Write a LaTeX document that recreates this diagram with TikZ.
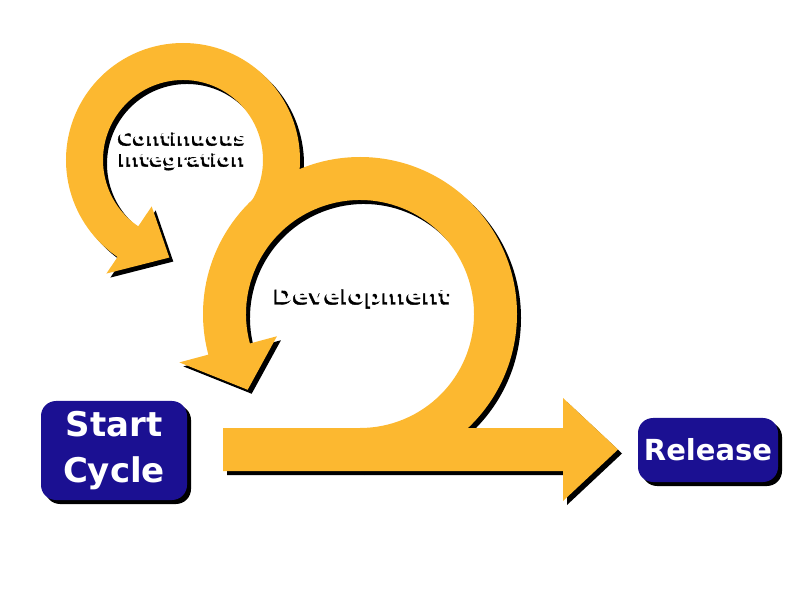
\documentclass[tikz,border=0pt]{standalone}
\usepackage{fontspec}
\newfontfamily\stagefont{DejaVu Sans}
\newfontfamily\loopfont{DejaVu Sans Bold}[FakeStretch=1.18,FakeBold=2]
\usetikzlibrary{calc,shadows}

\begin{document}
\begin{tikzpicture}[x=1pt,y=1pt,
  loop text/.style={align=center,inner sep=0pt},
  stage/.style={fill=stagefill,text=white,rounded corners=15pt,inner sep=0pt,
    align=center,drop shadow={shadow xshift=4pt,shadow yshift=-4pt,fill=black,opacity=1}}]
\definecolor{flow}{RGB}{252,184,48}
\definecolor{stagefill}{RGB}{27,16,146}
\useasboundingbox (0,0) rectangle (800,600);
% shadow layer first, then the yellow arrows
\foreach \col/\dx/\dy in {black/4/-4, flow/0/0} {
\begin{scope}[shift={(\dx,\dy)}]
\coordinate (D) at (360,286);
\coordinate (C) at (183,440);
\fill [\col] (223,129) -- (563,129) -- (563,99) -- (618,150.5) -- (563,202)
  -- (563,172) -- (223,172) -- cycle;
\fill [\col] ($ (C)+(-45:117) $) arc[start angle=-45,end angle=236,radius=117]
  -- ($ (C)+(236:137) $) -- ($ (C)+(262:98.5) $) -- ($ (C)+(236:56) $)
  -- ($ (C)+(236:80) $) arc[start angle=236,end angle=-45,radius=80] -- cycle;
\fill [\col] ($ (D)+(-90:157) $) arc[start angle=-90,end angle=195,radius=157]
  -- ($ (D)+(195:187) $) -- ($ (D)+(214:135.5) $) -- ($ (D)+(195:86) $)
  -- ($ (D)+(195:114) $) arc[start angle=195,end angle=-90,radius=114] -- cycle;
\end{scope}
}
\foreach \col/\dx/\dy in {black/-2/-2.5, white/0/0} {
\node [loop text,text=\col,font=\loopfont\fontsize{17}{21}\selectfont]
  (ci \col) at ({183+(\dx)},{451+(\dy)}) {Continuous\\Integration};
\node [loop text,text=\col,anchor=base,font=\loopfont\fontsize{20}{24}\selectfont]
  (dev \col) at ({363+(\dx)},{298+(\dy)}) {Development};
}
\node [stage,minimum width=146,minimum height=99,
  font=\stagefont\bfseries\fontsize{34}{47}\selectfont] (start) at (114,149.5) {Start\\[-1pt]Cycle};
\node [stage,minimum width=140,minimum height=64,
  font=\stagefont\bfseries\fontsize{29}{34}\selectfont] (release) at (708,150) {Release};
\end{tikzpicture}
\end{document}
